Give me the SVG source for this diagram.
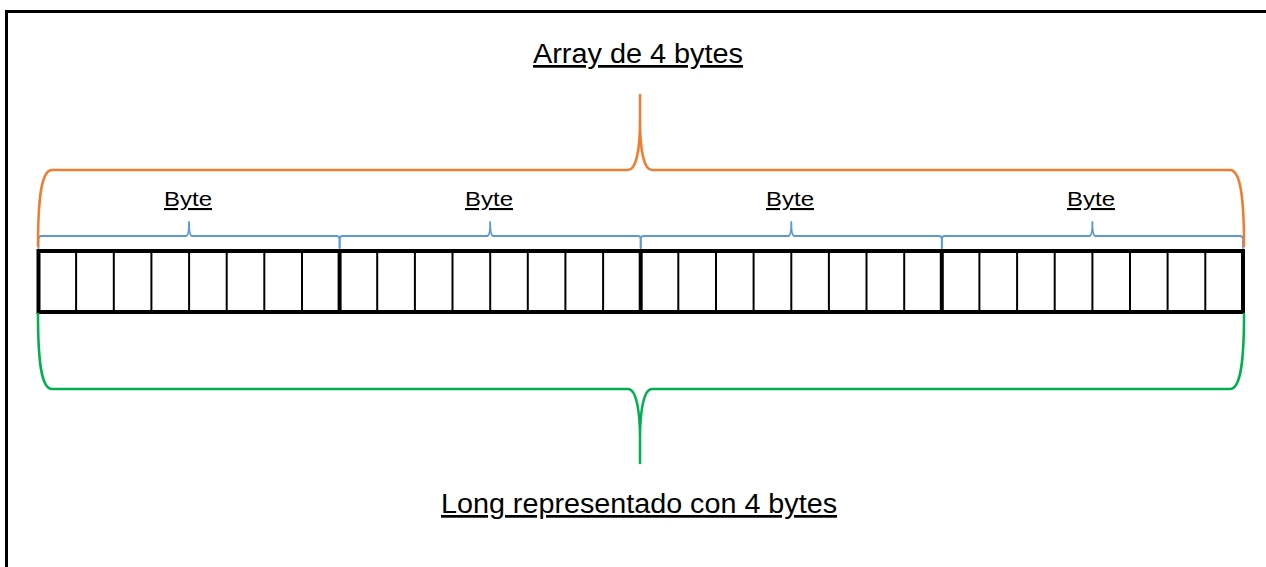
<svg xmlns="http://www.w3.org/2000/svg" width="1266" height="567" viewBox="0 0 1266 567">
  <style>
    .lbl { font-family: "Liberation Sans", Arial, sans-serif; fill: #000; text-decoration: underline; }
    .title { font-size: 27px; }
    .byte { font-size: 21px; }
    .cell { stroke: #000; stroke-width: 2; }
    .byteb { stroke: #000; stroke-width: 4; }
    .brace { fill: none; stroke-linecap: round; stroke-linejoin: round; }
    .orange { stroke: #ED7D31; stroke-width: 2.5; }
    .green { stroke: #00B050; stroke-width: 2.5; }
    .blue { stroke: #5B9BD5; stroke-width: 1.8; }
  </style>

  <rect width="1266" height="567" fill="#fff"/>
  <!-- outer frame (extends past the right and bottom edges) -->
  <rect x="6.5" y="11.5" width="1300" height="600" fill="none" stroke="#000" stroke-width="3"/>

  <g id="title-top">
    <text class="lbl title" x="638" y="63" text-anchor="middle" textLength="210" lengthAdjust="spacingAndGlyphs">Array de 4 bytes</text>
  </g>

  <g id="title-bottom">
    <text class="lbl title" x="639" y="513" text-anchor="middle" textLength="396" lengthAdjust="spacingAndGlyphs">Long representado con 4 bytes</text>
  </g>

  <g id="byte-labels">
    <text class="lbl byte" x="188" y="206" text-anchor="middle" textLength="48" lengthAdjust="spacingAndGlyphs">Byte</text>
    <text class="lbl byte" x="489" y="206" text-anchor="middle" textLength="48" lengthAdjust="spacingAndGlyphs">Byte</text>
    <text class="lbl byte" x="790" y="206" text-anchor="middle" textLength="48" lengthAdjust="spacingAndGlyphs">Byte</text>
    <text class="lbl byte" x="1091" y="206" text-anchor="middle" textLength="48" lengthAdjust="spacingAndGlyphs">Byte</text>
  </g>

  <!-- 32-bit array: thin bit dividers, thick byte boundaries -->
  <g id="bit-array">
    <g class="cell">
      <line x1="76.1" y1="251" x2="76.1" y2="312"/>
      <line x1="113.8" y1="251" x2="113.8" y2="312"/>
      <line x1="151.4" y1="251" x2="151.4" y2="312"/>
      <line x1="189.1" y1="251" x2="189.1" y2="312"/>
      <line x1="226.7" y1="251" x2="226.7" y2="312"/>
      <line x1="264.3" y1="251" x2="264.3" y2="312"/>
      <line x1="302.0" y1="251" x2="302.0" y2="312"/>

      <line x1="377.2" y1="251" x2="377.2" y2="312"/>
      <line x1="414.9" y1="251" x2="414.9" y2="312"/>
      <line x1="452.5" y1="251" x2="452.5" y2="312"/>
      <line x1="490.2" y1="251" x2="490.2" y2="312"/>
      <line x1="527.8" y1="251" x2="527.8" y2="312"/>
      <line x1="565.4" y1="251" x2="565.4" y2="312"/>
      <line x1="603.1" y1="251" x2="603.1" y2="312"/>

      <line x1="678.3" y1="251" x2="678.3" y2="312"/>
      <line x1="716.0" y1="251" x2="716.0" y2="312"/>
      <line x1="753.6" y1="251" x2="753.6" y2="312"/>
      <line x1="791.3" y1="251" x2="791.3" y2="312"/>
      <line x1="828.9" y1="251" x2="828.9" y2="312"/>
      <line x1="866.5" y1="251" x2="866.5" y2="312"/>
      <line x1="904.2" y1="251" x2="904.2" y2="312"/>

      <line x1="979.4" y1="251" x2="979.4" y2="312"/>
      <line x1="1017.1" y1="251" x2="1017.1" y2="312"/>
      <line x1="1054.7" y1="251" x2="1054.7" y2="312"/>
      <line x1="1092.4" y1="251" x2="1092.4" y2="312"/>
      <line x1="1130.0" y1="251" x2="1130.0" y2="312"/>
      <line x1="1167.6" y1="251" x2="1167.6" y2="312"/>
      <line x1="1205.3" y1="251" x2="1205.3" y2="312"/>
    </g>
    <g class="byteb">
      <line x1="339.6" y1="251" x2="339.6" y2="312"/>
      <line x1="640.7" y1="251" x2="640.7" y2="312"/>
      <line x1="941.8" y1="251" x2="941.8" y2="312"/>
      <rect x="38.5" y="251" width="1204.5" height="61" fill="none"/>
    </g>
  </g>

  <g id="connectors">
    <!-- per-byte braces -->
    <g class="brace blue">
      <path d="M38.5,248 L38.5,239 Q38.5,236 41.5,236 L186,236 Q189,236 189,222 Q189,236 192,236 L336.6,236 Q339.6,236 339.6,239 L339.6,248"/>
      <path d="M339.6,248 L339.6,239 Q339.6,236 342.6,236 L487.2,236 Q490.2,236 490.2,222 Q490.2,236 493.2,236 L637.7,236 Q640.7,236 640.7,239 L640.7,248"/>
      <path d="M640.7,248 L640.7,239 Q640.7,236 643.7,236 L788.3,236 Q791.3,236 791.3,222 Q791.3,236 794.3,236 L938.8,236 Q941.8,236 941.8,239 L941.8,248"/>
      <path d="M941.8,248 L941.8,239 Q941.8,236 944.8,236 L1089.4,236 Q1092.4,236 1092.4,222 Q1092.4,236 1095.4,236 L1240,236 Q1243,236 1243,239 L1243,248"/>
    </g>
    <!-- whole-array brace (top) -->
    <path class="brace orange" d="M38,246 C38,200 41,170 52,170 L628,170 C636,170 640,150 640,120 L640,95 M640,120 C640,150 644,170 652,170 L1230,170 C1241,170 1244,200 1244,246"/>
    <!-- whole-long brace (bottom) -->
    <path class="brace green" d="M38,314 C38,360 41,389 52,389 L628,389 C636,389 640,410 640,438 L640,463 M640,438 C640,410 644,389 652,389 L1230,389 C1241,389 1244,360 1244,314"/>
  </g>
</svg>
